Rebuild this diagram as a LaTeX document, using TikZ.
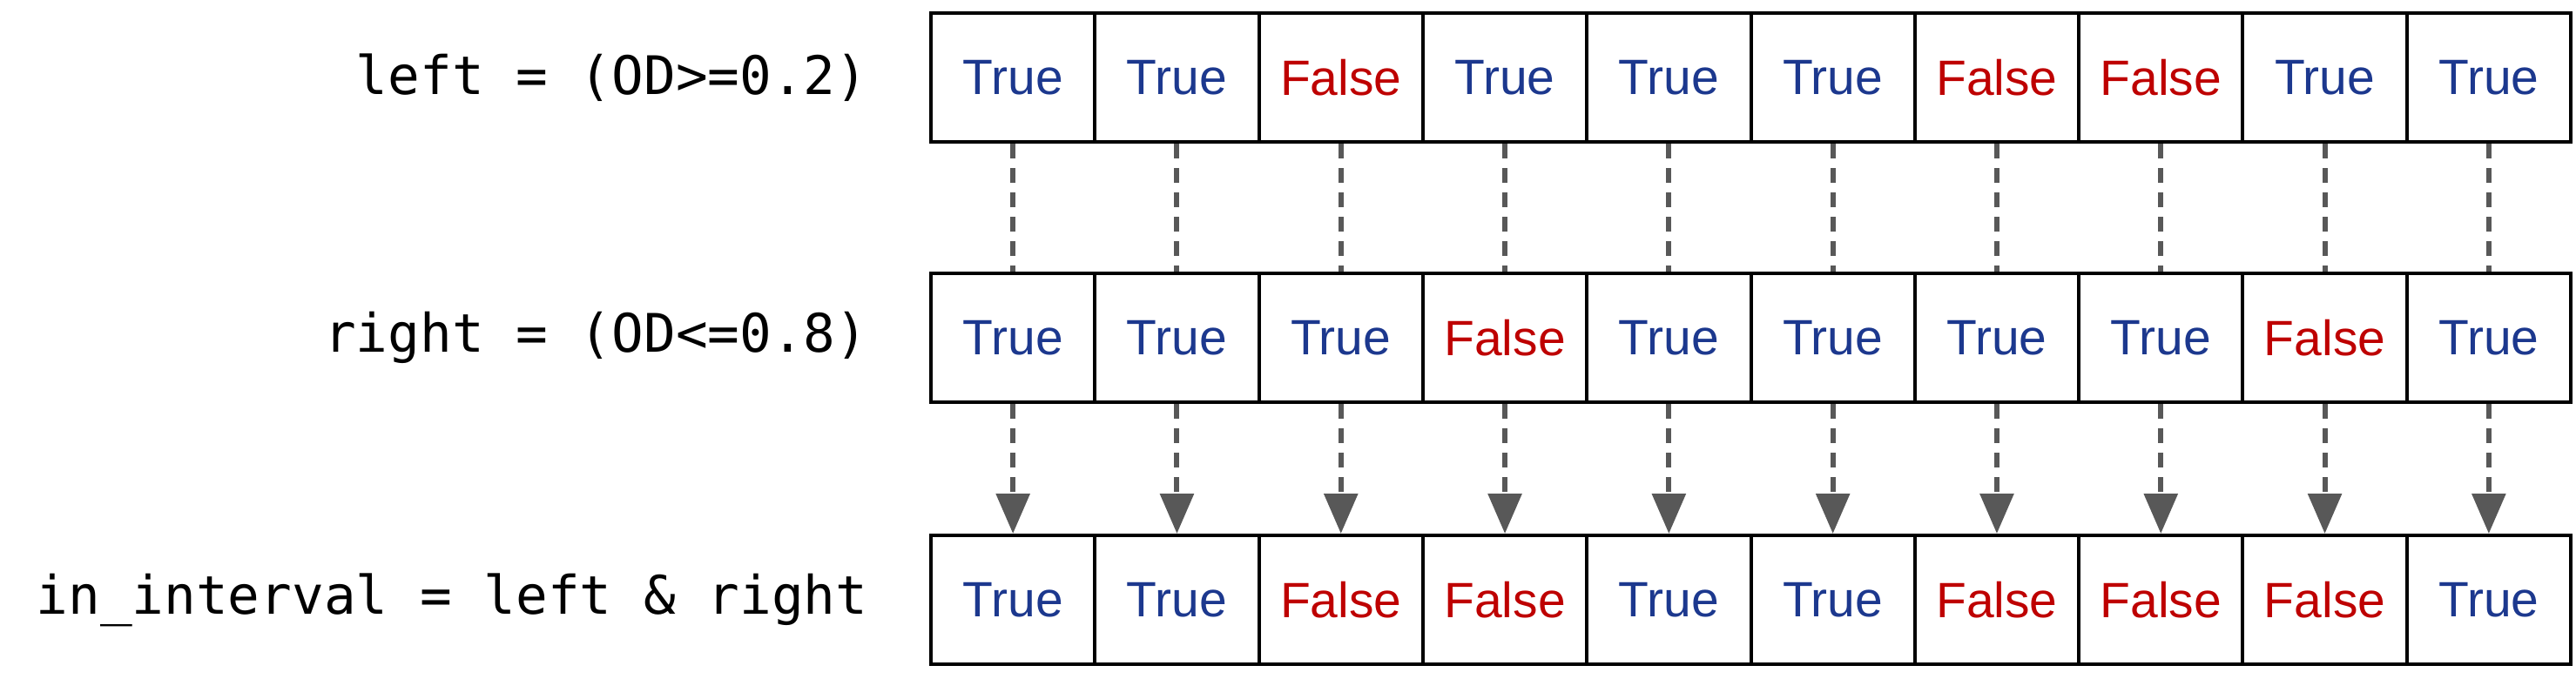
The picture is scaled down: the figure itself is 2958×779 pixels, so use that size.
\documentclass[tikz,border=0pt]{standalone}
\usepackage{fontspec}
\setmainfont{Liberation Sans}
\setmonofont{DejaVu Sans Mono}
\usetikzlibrary{arrows.meta}
\definecolor{tblue}{RGB}{28,56,142}
\definecolor{fred}{RGB}{190,0,0}
\definecolor{arrgray}{RGB}{88,88,88}
\begin{document}
\begin{tikzpicture}[x=1pt,y=-1pt,
  cell/.style={draw=black,line width=4pt,minimum width=188.3pt,minimum height=148pt,inner sep=0pt,font=\fontsize{57}{62}\selectfont},
  vT/.style={cell,text=tblue},
  vF/.style={cell,text=fred},
  lbl/.style={anchor=east,font=\fontsize{61}{70}\selectfont\ttfamily},
  link/.style={arrgray,line width=6pt,dash pattern=on 17pt off 11pt},
  arr/.style={link,-{Triangle[length=46pt,width=38pt,fill=arrgray]}}]
\useasboundingbox (0,0) rectangle (2958,779);
% rows of values
\foreach \v [count=\i] in {T,T,F,T,T,T,F,F,T,T}
  \node[v\v] (a\i) at ({1069+188.3*(\i-0.5)},89) {\if\v T True\else False\fi};
\foreach \v [count=\i] in {T,T,T,F,T,T,T,T,F,T}
  \node[v\v] (b\i) at ({1069+188.3*(\i-0.5)},388) {\if\v T True\else False\fi};
\foreach \v [count=\i] in {T,T,F,F,T,T,F,F,F,T}
  \node[v\v] (c\i) at ({1069+188.3*(\i-0.5)},689) {\if\v T True\else False\fi};
% connectors
\foreach \i in {1,...,10}{
  \draw[link] (a\i.south) -- (b\i.north);
  \draw[arr] (b\i.south) -- (c\i.north);
}
% labels
\node[lbl] (lleft) at (1000,89) {left = (OD>=0.2)};
\node[lbl] (lright) at (1000,388) {right = (OD<=0.8)};
\node[lbl] (lin) at (1000,689) {in\_interval = left \& right};
\end{tikzpicture}
\end{document}
